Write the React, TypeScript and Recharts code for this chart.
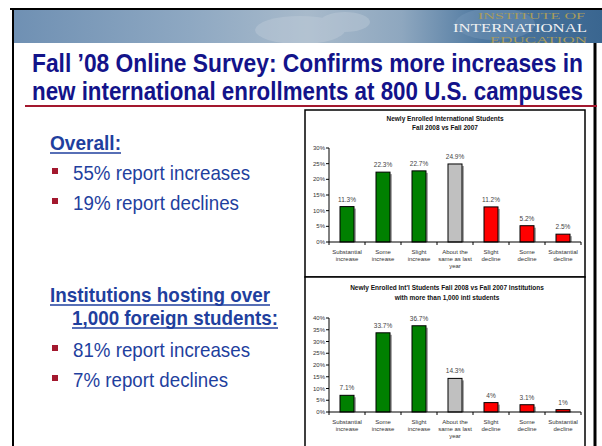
import { BarChart, Bar, XAxis, YAxis, Cell, LabelList } from "recharts"

// survey answer categories (line breaks as in the slide)
const categories = [
  "Substantial\nincrease",
  "Some\nincrease",
  "Slight\nincrease",
  "About the\nsame as last\nyear",
  "Slight\ndecline",
  "Some\ndecline",
  "Substantial\ndecline",
]
const trend = ["up", "up", "up", "same", "down", "down", "down"]

// Newly Enrolled International Students, Fall 2008 vs Fall 2007 (%)
const overallValues = [11.3, 22.3, 22.7, 24.9, 11.2, 5.2, 2.5]
const overallTicks = [0, 5, 10, 15, 20, 25, 30]

// Institutions with more than 1,000 intl students (%)
const largeValues = [7.1, 33.7, 36.7, 14.3, 4, 3.1, 1]
const largeTicks = [0, 5, 10, 15, 20, 25, 30, 35, 40]

const trendColors: Record<string, string> = {
  up: "#008000",
  same: "#c0c0c0",
  down: "#ff0000",
}

const FONT = "'Liberation Sans', Arial, sans-serif"
const TITLE_BLUE = "#13138a"
const TEXT_BLUE = "#1f3f9e"
const DARK_RED = "#a3182e"

function CategoryTick(props: any) {
  const { x, y, payload, index, visibleTicksCount } = props
  const half = payload?.offset ?? 18
  const axisY = y - 5
  const lines = String(payload.value).split("\n")
  return (
    <g>
      <line x1={x - half} x2={x - half} y1={axisY} y2={axisY + 3} stroke="#000" />
      {index === visibleTicksCount - 1 && (
        <line x1={x + half} x2={x + half} y1={axisY} y2={axisY + 3} stroke="#000" />
      )}
      {lines.map((line, i) => (
        <text
          key={i}
          x={x}
          y={y + 7 + i * 7}
          textAnchor="middle"
          fontSize={6}
          fill="#333"
          fontFamily={FONT}
        >
          {line}
        </text>
      ))}
    </g>
  )
}

function ShadowBar(props: any) {
  const { x, y, width, height, fill } = props
  if (!height || height <= 0) return null
  return (
    <g>
      <rect x={x + 2} y={y + 2} width={width} height={Math.max(height - 2, 0)} fill="#a8a8a8" />
      <rect x={x} y={y} width={width} height={height} fill={fill} stroke="#000" strokeWidth={1} />
    </g>
  )
}

function SurveyChart({
  values,
  ticks,
  width,
  height,
  top,
  bottom,
}: {
  values: number[]
  ticks: number[]
  width: number
  height: number
  top: number
  bottom: number
}) {
  const data = categories.map((c, i) => ({ category: c, value: values[i], trend: trend[i] }))
  return (
    <BarChart
      width={width}
      height={height}
      data={data}
      margin={{ top, right: 4, bottom, left: 0 }}
      barCategoryGap={0}
      style={{ fontFamily: FONT }}
    >
      <XAxis
        dataKey="category"
        interval={0}
        height={30}
        tickLine={false}
        tickSize={3}
        tickMargin={2}
        axisLine={{ stroke: "#000" }}
        tick={<CategoryTick />}
      />
      <YAxis
        domain={[ticks[0], ticks[ticks.length - 1]]}
        ticks={ticks}
        interval={0}
        width={24}
        tickSize={3}
        tickMargin={1}
        tickFormatter={(v) => `${v}%`}
        tick={{ fontSize: 6, fill: "#333" }}
        axisLine={{ stroke: "#000" }}
        tickLine={{ stroke: "#000" }}
      />
      <Bar dataKey="value" barSize={14} shape={<ShadowBar />} isAnimationActive={false}>
        {data.map((d, i) => (
          <Cell key={`cell-${i}`} fill={trendColors[d.trend]} />
        ))}
        <LabelList
          dataKey="value"
          position="top"
          offset={5}
          formatter={(v: any) => `${v}%`}
          fontSize={6.5}
          fill="#444"
          fontFamily={FONT}
        />
      </Bar>
    </BarChart>
  )
}

// narrow text: draw at a wider length then squeeze horizontally
function Narrow({ x, y, len, squeeze = 0.8, children, ...rest }: any) {
  return (
    <g transform={`translate(${x},${y}) scale(${squeeze},1)`}>
      <text x={0} y={0} textLength={len / squeeze} lengthAdjust="spacingAndGlyphs" {...rest}>
        {children}
      </text>
    </g>
  )
}

function Slide() {
  return (
    <svg width={602} height={446} style={{ position: "absolute", left: 0, top: 0 }}>
      <defs>
        <linearGradient id="banner" x1="0" y1="0" x2="1" y2="0">
          <stop offset="0" stopColor="#6f90b3" />
          <stop offset="0.3" stopColor="#8ea8c2" />
          <stop offset="0.5" stopColor="#a8bacb" />
          <stop offset="0.66" stopColor="#8ea7bf" />
          <stop offset="0.8" stopColor="#4e78a0" />
          <stop offset="1" stopColor="#3a6690" />
        </linearGradient>
        <clipPath id="bannerClip">
          <rect x={13} y={10} width={589} height={33} />
        </clipPath>
      </defs>
      {/* header banner */}
      <rect x={13} y={10} width={589} height={33} fill="url(#banner)" />
      <g clipPath="url(#bannerClip)" opacity={0.35}>
        <ellipse cx={300} cy={30} rx={45} ry={14} fill="#c8d3de" />
        <ellipse cx={345} cy={22} rx={25} ry={10} fill="#c8d3de" />
        <ellipse cx={495} cy={24} rx={40} ry={16} fill="#7f9fbf" />
      </g>
      <g clipPath="url(#bannerClip)" fontFamily="'Liberation Serif', serif">
        <text x={478} y={19} fontSize={9} fill="#a99c5c" textLength={107} lengthAdjust="spacingAndGlyphs">
          INSTITUTE OF
        </text>
        <text x={453} y={32} fontSize={13} fill="#f2f2f2" textLength={134} lengthAdjust="spacingAndGlyphs">
          INTERNATIONAL
        </text>
        <text x={490} y={43} fontSize={9} fill="#a99c5c" textLength={97} lengthAdjust="spacingAndGlyphs">
          EDUCATION
        </text>
      </g>
      {/* slide frame */}
      <line x1={10} x2={602} y1={9} y2={9} stroke="#000" strokeWidth={2} />
      <line x1={13} x2={13} y1={9} y2={446} stroke="#000" strokeWidth={2} />
      <line x1={595} x2={595} y1={43} y2={446} stroke="#000" strokeWidth={3} />

      {/* title */}
      <g fontFamily={FONT} fontWeight="bold" fontSize={25} fill={TITLE_BLUE}>
        <Narrow x={32} y={72} len={551}>
          Fall ’08 Online Survey: Confirms more increases in
        </Narrow>
        <Narrow x={32} y={100} len={551}>
          new international enrollments at 800 U.S. campuses
        </Narrow>
      </g>
      <line x1={25} x2={597} y1={106} y2={106} stroke={DARK_RED} strokeWidth={2} />

      {/* left text */}
      <g fontFamily={FONT} fill={TEXT_BLUE} fontSize={21}>
        <Narrow x={50} y={150} len={71} squeeze={0.85} fontWeight="bold">
          Overall:
        </Narrow>
        <Narrow x={73} y={180} len={177} squeeze={0.85}>
          55% report increases
        </Narrow>
        <Narrow x={73} y={210} len={166} squeeze={0.85}>
          19% report declines
        </Narrow>
        <Narrow x={50} y={302} len={220} squeeze={0.85} fontWeight="bold">
          Institutions hosting over
        </Narrow>
        <Narrow x={72} y={325} len={206} squeeze={0.85} fontWeight="bold">
          1,000 foreign students:
        </Narrow>
        <Narrow x={73} y={357} len={177} squeeze={0.85}>
          81% report increases
        </Narrow>
        <Narrow x={73} y={387} len={155} squeeze={0.85}>
          7% report declines
        </Narrow>
      </g>
      <g stroke={TEXT_BLUE} strokeWidth={1.5}>
        <line x1={50} x2={121} y1={153} y2={153} />
        <line x1={50} x2={270} y1={305} y2={305} />
        <line x1={72} x2={278} y1={328} y2={328} />
      </g>
      <g fill={DARK_RED}>
        <rect x={52} y={168} width={6} height={6} />
        <rect x={52} y={198} width={6} height={6} />
        <rect x={52} y={345} width={6} height={6} />
        <rect x={52} y={375} width={6} height={6} />
      </g>

      {/* chart frames and titles */}
      <rect x={305} y={110} width={280} height={167} fill="#fff" stroke="#000" strokeWidth={1.5} />
      <rect x={305} y={277} width={280} height={175} fill="#fff" stroke="#000" strokeWidth={1.5} />
      <g fontFamily={FONT} fontWeight="bold" fontSize={6.5} fill="#111" textAnchor="middle">
        <text x={445} y={121}>Newly Enrolled International Students</text>
        <text x={445} y={130}>Fall 2008 vs Fall 2007</text>
        <text x={447} y={290}>Newly Enrolled Int'l Students Fall 2008 vs Fall 2007 Institutions</text>
        <text x={447} y={300}>with more than 1,000 intl students</text>
      </g>
    </svg>
  )
}

export default function App() {
  return (
    <div style={{ position: "absolute", left: 0, top: 0, width: 602, height: 446, background: "#fff", overflow: "hidden" }}>
      <Slide />
      <div style={{ position: "absolute", left: 305, top: 110 }}>
        <SurveyChart values={overallValues} ticks={overallTicks} width={280} height={167} top={38} bottom={5} />
      </div>
      <div style={{ position: "absolute", left: 305, top: 277 }}>
        <SurveyChart values={largeValues} ticks={largeTicks} width={280} height={169} top={41} bottom={4} />
      </div>
    </div>
  )
}
